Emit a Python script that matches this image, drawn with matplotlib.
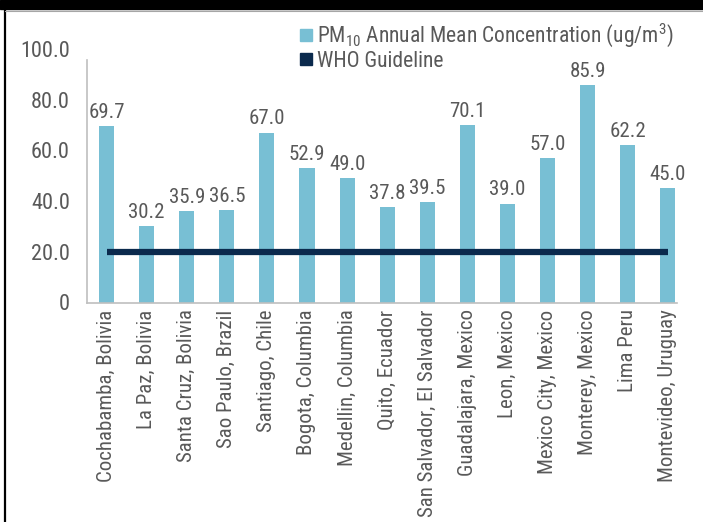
import matplotlib
matplotlib.use("Agg")
import matplotlib.pyplot as plt
from matplotlib.lines import Line2D
from matplotlib.patches import Rectangle

plt.rcParams['font.family'] = ['Roboto Condensed', 'DejaVu Sans']
plt.rcParams['mathtext.fontset'] = 'custom'
plt.rcParams['mathtext.rm'] = 'Roboto Condensed'

cities = ["Cochabamba, Bolivia", "La Paz, Bolivia", "Santa Cruz, Bolivia",
          "Sao Paulo, Brazil", "Santiago, Chile", "Bogota, Columbia",
          "Medellin, Columbia", "Quito, Ecuador", "San Salvador, El Salvador",
          "Guadalajara, Mexico", "Leon, Mexico", "Mexico City, Mexico",
          "Monterey, Mexico", "Lima Peru", "Montevideo, Uruguay"]
pm10 = [69.7, 30.2, 35.9, 36.5, 67.0, 52.9, 49.0, 37.8, 39.5,
        70.1, 39.0, 57.0, 85.9, 62.2, 45.0]
who_guideline = 20.0
yticks = [0, 20, 40, 60, 80, 100]
ytick_labels = ["0", "20.0", "40.0", "60.0", "80.0", "100.0"]

BAR = "#78BFD4"
NAVY = "#0B2A4D"
TEXT = "#595959"
AXIS = "#BFBFBF"

fig = plt.figure(figsize=(7.03, 5.22), dpi=100)
ax = fig.add_axes([86.5 / 703, 1 - 302.5 / 522, (677 - 86.5) / 703, (302.5 - 49) / 522])

x = list(range(len(cities)))
ax.bar(x, pm10, width=0.375, color=BAR, zorder=2)
ax.plot([x[0], x[-1]], [who_guideline, who_guideline], color=NAVY, lw=4.5,
        solid_capstyle='butt', zorder=3)

for xi, v in zip(x, pm10):
    ax.annotate(f"{v:.1f}", (xi, v), xytext=(0, 3), textcoords="offset points",
                ha="center", va="bottom", fontsize=15, color=TEXT)

ax.set_xlim(-0.5, 14.23)
ax.set_ylim(0, 100)
ax.set_yticks(yticks)
ax.set_yticklabels(ytick_labels, fontsize=16, color=TEXT)
ax.set_xticks(x)
ax.set_xticklabels(cities, rotation=90, fontsize=15, color=TEXT)
ax.tick_params(axis='x', length=0, pad=5)
ax.tick_params(axis='y', length=0, pad=12)

for s in ("top", "right"):
    ax.spines[s].set_visible(False)
for s in ("left", "bottom"):
    ax.spines[s].set_color(AXIS)
    ax.spines[s].set_linewidth(1.2)
ax.spines["left"].set_bounds(0, 95.5)

handles = [
    Line2D([], [], marker='s', linestyle='none', color=BAR, markersize=8),
    Line2D([], [], marker='s', linestyle='none', color=NAVY, markersize=8),
]
labels = [r"PM$_{\mathregular{10}}$ Annual Mean Concentration (ug/m$^{\mathregular{3}}$)",
          "WHO Guideline"]
fig.legend(handles, labels, loc="upper left", bbox_to_anchor=(289 / 703, 1 - 13 / 522),
           frameon=False, fontsize=15.5, labelcolor=TEXT, handletextpad=0.1,
           handlelength=0.8, labelspacing=0.05, borderaxespad=0)

# page frame: dark header band, left rule and thin top rule
fig.patches.append(Rectangle((0, 1 - 9 / 522), 1, 9 / 522, transform=fig.transFigure,
                             color="black", zorder=5))
fig.add_artist(Line2D([4.5 / 703, 4.5 / 703], [0, 1], transform=fig.transFigure,
                      color="black", lw=1.6))
fig.add_artist(Line2D([5 / 703, 1], [1 - 10.5 / 522, 1 - 10.5 / 522],
                      transform=fig.transFigure, color="#A6A6A6", lw=0.8))

fig.savefig("out.png", dpi=100)
